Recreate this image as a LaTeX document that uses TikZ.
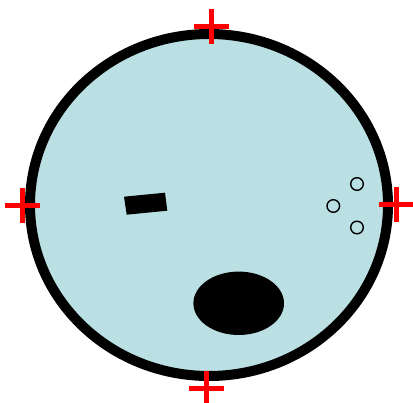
\documentclass[tikz,border=0pt]{standalone}
\definecolor{lagoon}{RGB}{186,224,228}
\tikzset{
  crossmark/.style={draw=red, line width=5pt},
  hole/.style={draw=black, line width=1.4pt, fill=lagoon}
}
\begin{document}
\begin{tikzpicture}[x=1pt,y=-1pt]
\useasboundingbox (0,0) rectangle (413,403);
% main disc
\draw[line width=10pt, fill=lagoon] (209,205) ellipse [x radius=179, y radius=171];
% rectangle (rotated)
\fill[black] (124,196.7) -- (165,192.7) -- (167.3,210.7) -- (126.7,214.7) -- cycle;
% filled ellipse
\fill[black] (238.7,303.3) ellipse [x radius=45.3, y radius=31.7];
% small circles
\draw[hole] (357,184) circle [radius=6.3];
\draw[hole] (333.3,206) circle [radius=6.3];
\draw[hole] (357,227.5) circle [radius=6.3];
% crosses
\foreach \cx/\cy in {22/205.5, 211/26.5, 396.5/204.5, 206/388.5}{
  \draw[crossmark] (\cx-17.5,\cy) -- (\cx+17.5,\cy);
  \draw[crossmark] (\cx,\cy-17.5) -- (\cx,\cy+17.5);
}
\end{tikzpicture}
\end{document}
